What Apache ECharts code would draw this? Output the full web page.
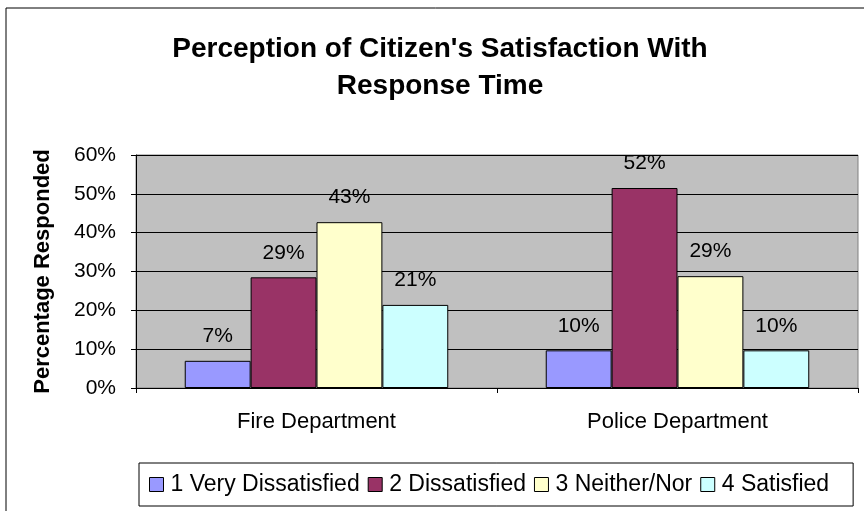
<!DOCTYPE html>
<html>
<head>
<meta charset="utf-8">
<script src="https://cdn.jsdelivr.net/npm/echarts@6/dist/echarts.min.js"></script>
<style>
  html, body { margin: 0; padding: 0; background: #fff; }
  #chart { width: 864px; height: 511px; }
</style>
</head>
<body>
<div id="chart"></div>
<script>
// departments on the x axis
const departments = ['Fire Department', 'Police Department'];
// responses per satisfaction level, in percent
const levelNames = ['1 Very Dissatisfied', '2 Dissatisfied', '3 Neither/Nor', '4 Satisfied'];
const veryDissatisfied = [7, 9.7];
const dissatisfied = [28.5, 51.5];
const neitherNor = [42.7, 28.8];
const satisfied = [21.4, 9.7];
const levelColors = ['#9999FF', '#993366', '#FFFFCC', '#CCFFFF'];

const font = 'Liberation Sans, Arial, sans-serif';
const seriesData = [veryDissatisfied, dissatisfied, neitherNor, satisfied];

let myChart = echarts.init(document.getElementById('chart'));

let option = {
    animation: false,
    textStyle: { fontFamily: font, color: '#000' },
    graphic: [
        {
            type: 'rect',
            shape: { x: 6, y: 8, width: 900, height: 600 },
            style: { fill: 'none', stroke: '#000', lineWidth: 1 },
            silent: true
        },
        {
            type: 'text',
            x: 440,
            y: 31,
            style: {
                text: "Perception of Citizen's Satisfaction With\nResponse Time",
                align: 'center',
                fontFamily: font,
                fontWeight: 'bold',
                fontSize: 28,
                lineHeight: 37,
                fill: '#000'
            }
        }
    ],
    legend: {
        data: levelNames,
        left: 139,
        top: 463,
        padding: [10, 24, 10, 10],
        itemWidth: 14,
        itemHeight: 14,
        itemGap: 8,
        icon: 'rect',
        borderColor: '#000',
        borderWidth: 1,
        itemStyle: { borderColor: '#000', borderWidth: 1 },
        textStyle: { fontFamily: font, fontSize: 23, color: '#000', padding: [0, 0, 0, 2] }
    },
    grid: {
        left: 136,
        right: 6,
        top: 155,
        bottom: 123,
        show: true,
        backgroundColor: '#C0C0C0',
        borderColor: '#808080',
        borderWidth: 1
    },
    xAxis: {
        type: 'category',
        data: departments,
        axisLine: { lineStyle: { color: '#000' } },
        axisTick: { show: true, length: 5, lineStyle: { color: '#000' } },
        axisLabel: { fontSize: 22, color: '#000', margin: 23, fontFamily: font }
    },
    yAxis: {
        type: 'value',
        min: 0,
        max: 60,
        interval: 10,
        name: 'Percentage Responded',
        nameLocation: 'middle',
        nameRotate: 90,
        nameGap: 82,
        nameTextStyle: { fontSize: 22, fontWeight: 'bold', color: '#000', fontFamily: font },
        axisLine: { show: true, lineStyle: { color: '#000' } },
        axisTick: { show: true, length: 5, lineStyle: { color: '#000' } },
        axisLabel: { formatter: '{value}%', fontSize: 21, color: '#000', margin: 20, fontFamily: font },
        splitLine: { lineStyle: { color: '#000', width: 1 } }
    },
    series: levelNames.map((name, i) => ({
        name: name,
        type: 'bar',
        data: seriesData[i],
        barGap: '0%',
        barCategoryGap: '27%',
        itemStyle: { color: levelColors[i], borderColor: '#000', borderWidth: 1 },
        label: {
            show: true,
            position: 'top',
            distance: 14,
            fontSize: 21,
            color: '#000',
            fontFamily: font,
            formatter: p => Math.round(p.value) + '%'
        }
    }))
};

myChart.setOption(option);
</script>
</body>
</html>
